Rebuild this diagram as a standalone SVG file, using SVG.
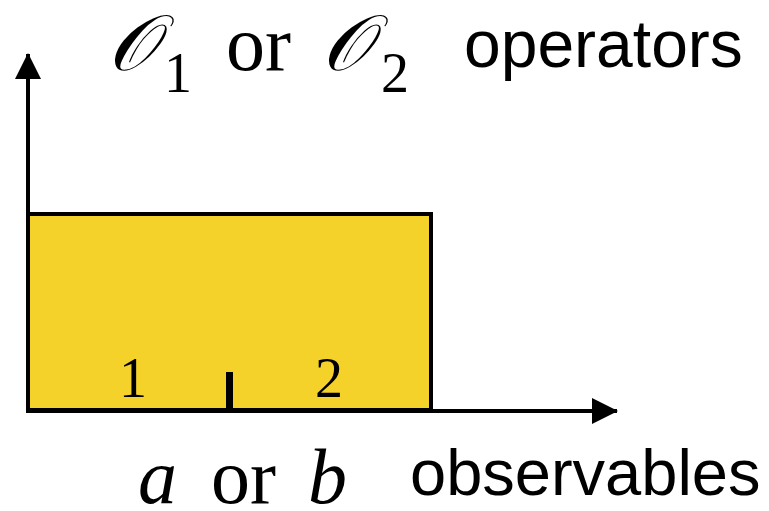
<svg xmlns="http://www.w3.org/2000/svg" width="769" height="511" viewBox="0 0 769 511">
<style>
.serif{font-family:"Liberation Serif","Times New Roman",serif;fill:#000}
.sans{font-family:"Liberation Sans",Arial,sans-serif;fill:#000}
.ax{stroke:#000;stroke-width:4;fill:none}
</style>
<defs>
<marker id="ah" markerUnits="userSpaceOnUse" markerWidth="26" markerHeight="26" refX="25" refY="13" orient="auto" viewBox="0 0 26 26">
<path d="M0,0 L26,13 L0,26 Z" fill="#000"/>
</marker>
</defs>
<g id="box">
<rect x="28" y="214" width="403" height="196" fill="#F5D22A" stroke="#000" stroke-width="4"/>
<line x1="229.5" y1="372" x2="229.5" y2="410" stroke="#000" stroke-width="7"/>
<text class="serif" x="133" y="397" font-size="56" text-anchor="middle">1</text>
<text class="serif" x="329" y="397" font-size="56" text-anchor="middle">2</text>
</g>
<g id="connectors">
<line class="ax" x1="28" y1="412" x2="28" y2="54" marker-end="url(#ah)"/>
<line class="ax" x1="26" y1="411" x2="617" y2="411" marker-end="url(#ah)"/>
</g>
<g id="ylabel">
<text class="serif" y="70" font-size="78"><tspan x="108" font-style="italic">𝒪</tspan><tspan x="164" y="92" font-size="56">1</tspan><tspan x="226" y="70">or</tspan><tspan x="322" font-style="italic">𝒪</tspan><tspan x="381" y="92" font-size="56">2</tspan></text>
<text class="sans" x="464" y="67" font-size="66">operators</text>
</g>
<g id="xlabel">
<text class="serif" y="503" font-size="78"><tspan x="138" font-style="italic">a</tspan><tspan x="211">or</tspan><tspan x="308" font-style="italic">b</tspan></text>
<text class="sans" x="410" y="495" font-size="65">observables</text>
</g>
</svg>
